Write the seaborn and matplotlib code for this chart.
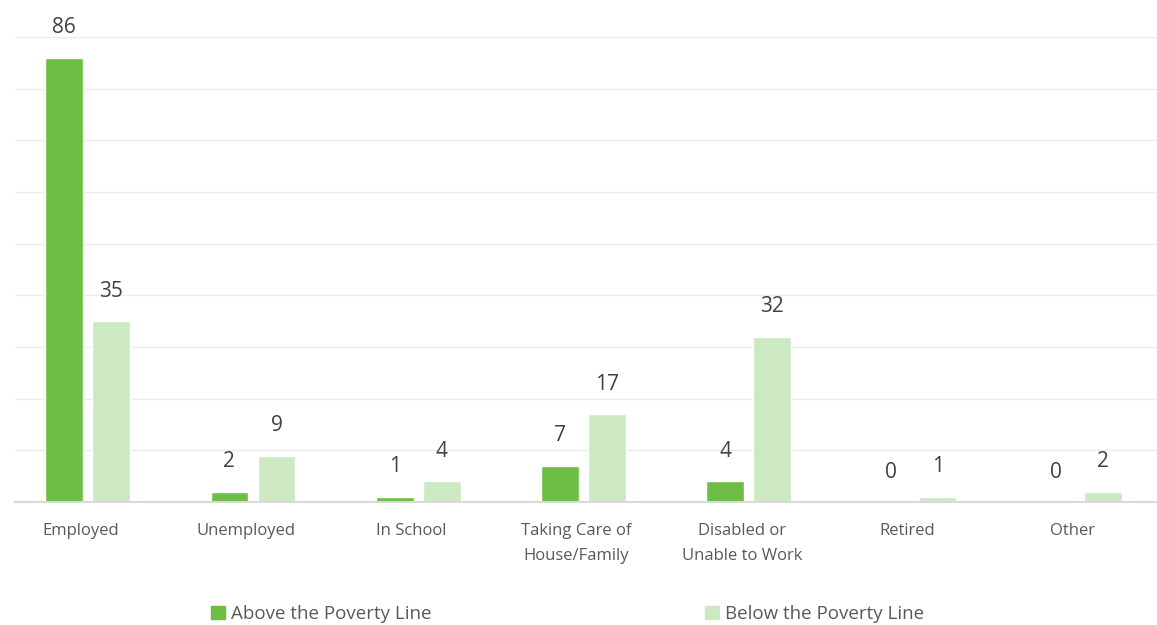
import matplotlib
matplotlib.use("Agg")
import matplotlib.pyplot as plt
import matplotlib.transforms as mtransforms
import seaborn as sns
import pandas as pd

categories = ["Employed", "Unemployed", "In School", "Taking Care of\nHouse/Family",
              "Disabled or\nUnable to Work", "Retired", "Other"]
above = [86, 2, 1, 7, 4, 0, 0]
below = [35, 9, 4, 17, 32, 1, 2]
series = ["Above the Poverty Line", "Below the Poverty Line"]

df = pd.DataFrame({
    "category": categories * 2,
    "value": above + below,
    "group": [series[0]] * len(categories) + [series[1]] * len(categories),
})

sns.set_theme(style="white")
plt.rcParams["font.family"] = ["Open Sans", "DejaVu Sans"]

fig = plt.figure(figsize=(11.57, 6.25), dpi=100)
ax = fig.add_axes([15 / 1157, 1 - 502 / 625, 1 - 15 / 1157, (502 - 37) / 625])

pal = {series[0]: "#6DBE45", series[1]: "#CDE9C1"}
sns.barplot(data=df, x="category", y="value", hue="group", palette=pal,
            width=0.57, gap=0.2, ax=ax, legend=False, saturation=1)

for cont in ax.containers:
    ax.bar_label(cont, padding=14, fontsize=15, color="#404040")

ax.set_ylim(0, 90)
ax.set_xlim(-0.44, 6.47)
ax.set_yticks(range(0, 91, 10))
ax.yaxis.grid(True, color="#EBEBEB", linewidth=1)
ax.set_axisbelow(True)
ax.tick_params(axis="y", left=False, labelleft=False)
ax.tick_params(axis="x", bottom=False, pad=9, labelsize=12, labelcolor="#595959")
# category labels sit a little left of the bar pair, as in the original
shift = mtransforms.ScaledTranslation(-7 / 100, 0, fig.dpi_scale_trans)
for lab in ax.get_xticklabels():
    lab.set_linespacing(1.75)
    lab.set_transform(lab.get_transform() + shift)
ax.set_xlabel("")
ax.set_ylabel("")
for s in ["top", "right", "left"]:
    ax.spines[s].set_visible(False)
ax.spines["bottom"].set_color("#D9D9D9")
ax.spines["bottom"].set_linewidth(1.5)

handles = [plt.Rectangle((0, 0), 1, 1, color=pal[s]) for s in series]
fig.legend(handles, series, loc="center", bbox_to_anchor=(0.4905, 1 - 614 / 625), ncol=2,
           frameon=False, fontsize=13.5, labelcolor="#595959", handlelength=0.75,
           handleheight=0.75, handletextpad=0.3, columnspacing=14.6)

fig.savefig("out.png", dpi=100)
